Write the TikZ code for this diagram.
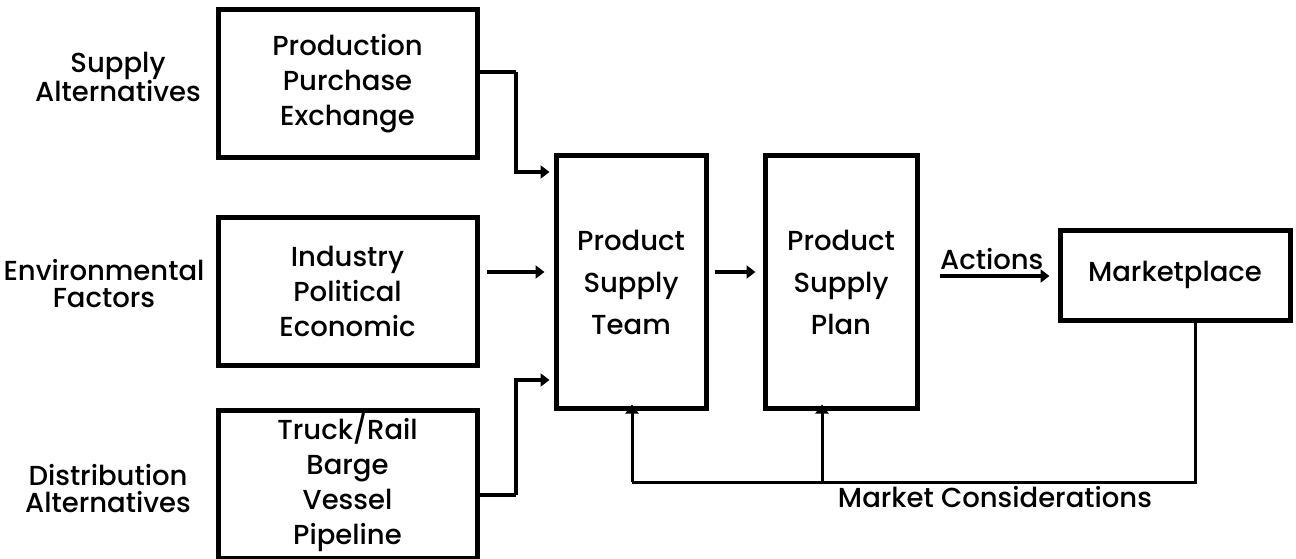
\documentclass[tikz,border=0pt]{standalone}
\usepackage{fontspec}
\setmainfont{Poppins}[UprightFont={* Medium}]
\usetikzlibrary{arrows.meta}
\begin{document}
\begin{tikzpicture}[x=1pt,y=-1pt,
  box/.style={draw,line width=5pt,inner sep=0pt},
  lbl/.style={align=center,font=\fontsize{27.5}{27}\selectfont},
  btxt/.style={align=center,font=\fontsize{27.5}{35}\selectfont},
  ctxt/.style={align=center,font=\fontsize{27.5}{42}\selectfont},
  arr/.style={line width=4pt,-{Triangle[length=9pt,width=13pt]}},
  fb/.style={line width=3pt},
  fbarr/.style={line width=3pt,-{Triangle[length=9pt,width=13pt]}}]
\useasboundingbox (0,0) rectangle (1296,559);
% input boxes
\node[box,minimum width=259pt,minimum height=148pt] (b1) at (347.5,84) {};
\node[btxt] (t1) at (b1.center) {Production\\Purchase\\Exchange};
\node[box,minimum width=259pt,minimum height=148pt] (b2) at (347.5,291) {};
\node[btxt] (t2) at (b2.center) {Industry\\Political\\Economic};
\node[box,minimum width=259pt,minimum height=148pt] (b3) at (347.5,484) {};
\node[btxt] (t3) at (347.5,483) {Truck/Rail\\Barge\\Vessel\\Pipeline};
% side labels
\node[lbl] (l1) at (118,77) {Supply\\Alternatives};
\node[lbl] (l2) at (104,284) {Environmental\\Factors};
\node[lbl] (l3) at (108,489) {Distribution\\Alternatives};
% central boxes
\node[box,minimum width=150pt,minimum height=252pt] (team) at (631,282) {};
\node[ctxt] (tt) at (team.center) {Product\\Supply\\Team};
\node[box,minimum width=152pt,minimum height=252pt] (plan) at (841,282) {};
\node[ctxt] (pt) at (plan.center) {Product\\Supply\\Plan};
\node[box,minimum width=230pt,minimum height=90pt] (mkt) at (1175,275) {};
\node[btxt] (mt) at (mkt.center) {Marketplace};
% connectors
\coordinate (c1) at (516,72);
\coordinate (c3) at (516,495);
\coordinate (t1in) at (team.west |- 0,172);
\coordinate (t3in) at (team.west |- 0,380);
\draw[arr,-] (b1.east |- c1) -- (c1);
\draw[arr] (c1) -- (c1 |- t1in) -- ([xshift=-4pt]t1in);
\draw[arr,-] (b3.east |- c3) -- (c3);
\draw[arr] (c3) -- (c3 |- t3in) -- ([xshift=-4pt]t3in);
\draw[arr] (487,272) coordinate (e2) -- ([xshift=-9pt]team.west |- e2);
\draw[arr] ([xshift=6pt]team.east |- 0,272) -- ([xshift=-7pt]plan.west |- 0,272);
\coordinate (act) at (940,276);
\draw[arr] (act) -- ([xshift=-8pt]mkt.west |- act) node[midway,above=1pt,xshift=-3pt,font=\fontsize{27.5}{27}\selectfont] (al) {Actions};
% feedback loop
\coordinate (fr) at (1195,482);
\coordinate (fl) at (632,482);
\coordinate (fm) at (822,482);
\draw[fb] (mkt.south -| fr) -- (fr) -- (fl);
\draw[fbarr] (fl) -- ([yshift=6pt]team.south -| fl);
\draw[fbarr] (fm) -- ([yshift=6pt]plan.south -| fm);
\node[font=\fontsize{27.5}{27}\selectfont] (mc) at (995,497) {Market Considerations};
\end{tikzpicture}
\end{document}
